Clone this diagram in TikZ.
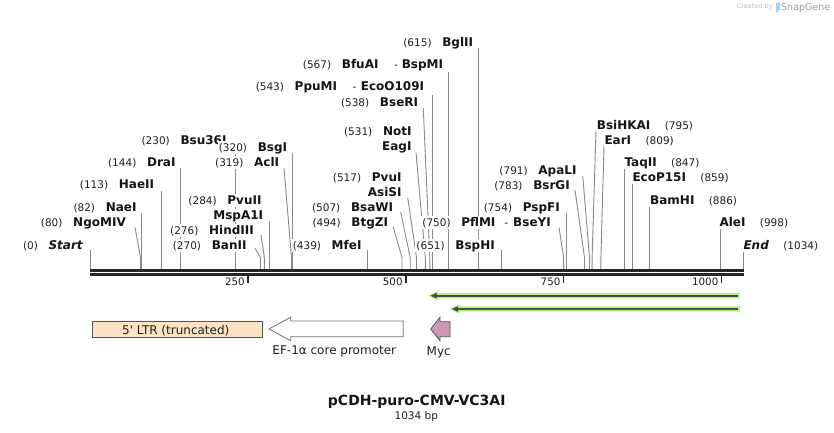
\documentclass[tikz,border=0pt]{standalone}
\usepackage{fontspec}
\setmainfont{DejaVu Sans}
\definecolor{sitegray}{HTML}{8A8A8A}
\definecolor{bbone}{HTML}{262626}
\definecolor{ltrfill}{HTML}{FDE3C3}
\definecolor{mycfill}{HTML}{CC99B5}
\definecolor{glowgreen}{RGB}{180,240,130}
\definecolor{darkarr}{RGB}{70,78,70}
\definecolor{fstroke}{HTML}{555555}
\definecolor{logoblue}{HTML}{9FD3F0}
\tikzset{
  nm/.style={font=\fontsize{12}{14}\selectfont\bfseries, text=black!92, fill=white,
    inner xsep=1pt, inner ysep=1.5pt, text height=9pt, text depth=1pt},
  nu/.style={font=\fontsize{10.5}{12}\selectfont, text=black!88, fill=white,
    inner xsep=1pt, inner ysep=1.5pt, text height=9pt, text depth=1pt},
  ticklab/.style={font=\fontsize{10.3}{12}\selectfont, text=black!88, inner sep=0pt},
  siteline/.style={draw=sitegray, line width=0.9pt},
  tickmark/.style={draw=bbone, line width=1.6pt},
  ftext/.style={font=\fontsize{12}{14}\selectfont, text=black!88, inner sep=0pt},
}
\newcommand\SiteV[3]{\coordinate (t#1) at (#2,#3); \coordinate (b#1) at (#2,269.2);
  \draw[siteline] (t#1) -- (b#1);}
\newcommand\SiteS[4]{\coordinate (t#1) at (#2,#3); \coordinate (k#1) at (#4,257.5);
  \coordinate (b#1) at (#4,269.2); \draw[siteline] (t#1) -- (k#1) -- (b#1);}
\newcommand\LabL[5]{\node[nm, anchor=base east, xshift=1pt] (n#1) at (#2,#3) {#5};
  \node[nu, anchor=base east, xshift=-8.3pt] (m#1) at (n#1.base west) {#4};}
\newcommand\LabLo[4]{\node[nm, anchor=base east, xshift=1pt] (n#1) at (#2,#3) {#4};}
\newcommand\LabR[5]{\node[nm, anchor=base west, xshift=-1pt] (n#1) at (#2,#3) {#5};
  \node[nu, anchor=base west, xshift=12pt] (m#1) at (n#1.base east) {#4};}
\newcommand\HySep[2]{\hspace{#1}{\mdseries\fontsize{10.5}{12}\selectfont -}\hspace{#2}}
\newcommand\GArrow[4]{%
  \coordinate (ga#1) at (#3,#2); \coordinate (gb#1) at (#4,#2);
  \fill[glowgreen] ({#3-1.2},#2) -- ({#3+8.5},{#2-4.6}) -- ({#3+8.5},{#2-2.7}) -- ({#4},{#2-2.7})
     -- ({#4},{#2+2.7}) -- ({#3+8.5},{#2+2.7}) -- ({#3+8.5},{#2+4.6}) -- cycle;
  \draw[darkarr, line width=2.3pt] ({#3+5},#2) -- ({#4-1.7},#2);
  \fill[darkarr] ({#3+1.2},#2) -- ({#3+7.2},{#2-2.8}) -- ({#3+7.2},{#2+2.8}) -- cycle;}
\begin{document}
\begin{tikzpicture}[x=1pt,y=-1pt]
\useasboundingbox (0,0) rectangle (834,432);
\fill[white] (0,0) rectangle (834,432);

% ---- site lines ----
\SiteV{0}{90}{250}
\SiteS{80}{135}{227.3}{140.5}
\SiteV{82}{141.8}{213}
\SiteV{113}{161.4}{191}
\SiteV{144}{180.9}{168.3}
\SiteV{230}{235.3}{146}
\SiteV{320}{292.1}{152.7}
\SiteS{319}{284}{168.3}{291.5}
\SiteV{284}{269.4}{221}
\SiteS{276}{261}{235}{264.3}
\SiteS{270}{255}{248.3}{260.5}
\SiteV{439}{367.2}{250}
\SiteS{494}{393.3}{227.3}{402}
\SiteS{507}{400.7}{212.3}{410.2}
\SiteS{517}{407.7}{197.7}{416.5}
\SiteS{531}{416}{152.7}{425.3}
\SiteS{538}{423.3}{108.3}{429.8}
\SiteV{543}{432.9}{95}
\SiteV{567}{448.1}{71.7}
\SiteV{615}{478.4}{48.3}
\SiteV{651}{501.1}{250}
\SiteS{750}{559}{227.3}{563.6}
\SiteV{754}{566.2}{213.3}
\SiteS{783}{575}{190}{584.5}
\SiteS{791}{582.7}{175.7}{589.5}
\SiteS{795}{596}{130}{592.1}
\SiteS{809}{604}{146}{600.9}
\SiteV{847}{624.9}{167.3}
\SiteV{859}{632.5}{182.7}
\SiteV{886}{649.5}{205.7}
\SiteV{998}{720.3}{227.3}
\SiteV{1034}{743}{250}

% ---- labels ----
\LabL{0}{83.3}{249.3}{(0)}{\textit{Start}}
\LabL{80}{126}{226}{(80)}{NgoMIV}
\LabL{82}{136.7}{211}{(82)}{NaeI}
\LabL{113}{154.3}{188.3}{(113)}{HaeII}
\LabL{144}{175.7}{166}{(144)}{DraI}
\LabL{230}{226.7}{144}{(230)}{Bsu36I}
\LabL{320}{287.3}{151}{(320)}{BsgI}
\LabL{319}{279.3}{166.7}{(319)}{AclI}
\LabL{284}{261.7}{204}{(284)}{PvuII}
\LabLo{284b}{263.3}{219.3}{MspA1I}
\LabL{276}{254}{234.3}{(276)}{HindIII}
\LabL{270}{246.7}{249.3}{(270)}{BanII}
\LabL{439}{361.7}{249}{(439)}{MfeI}
\LabL{494}{388.3}{226}{(494)}{BtgZI}
\LabL{507}{393.3}{211}{(507)}{BsaWI}
\LabL{517}{401.7}{181}{(517)}{PvuI}
\LabLo{517b}{401.7}{196}{AsiSI}
\LabL{531}{411.7}{135}{(531)}{NotI}
\LabLo{531b}{411.7}{150}{EagI}
\LabL{538}{418.3}{106.7}{(538)}{BseRI}
\LabL{543}{424.3}{90.7}{(543)}{PpuMI\HySep{15.5pt}{4.5pt}EcoO109I}
\LabL{567}{443.3}{68.3}{(567)}{BfuAI\HySep{15.5pt}{4pt}BspMI}
\LabL{615}{473.3}{46.3}{(615)}{BglII}
\LabL{651}{495}{249}{(651)}{BspHI}
\LabL{750}{551}{226}{(750)}{PflMI\HySep{9pt}{5pt}BseYI}
\LabL{754}{560}{211.7}{(754)}{PspFI}
\LabL{783}{570}{189.3}{(783)}{BsrGI}
\LabL{791}{576.7}{174.3}{(791)}{ApaLI}
\LabR{795}{596.7}{129.3}{(795)}{BsiHKAI}
\LabR{809}{604.3}{144.3}{(809)}{EarI}
\LabR{847}{624.3}{166.7}{(847)}{TaqII}
\LabR{859}{632.3}{181}{(859)}{EcoP15I}
\LabR{886}{650}{204.3}{(886)}{BamHI}
\LabR{998}{719.3}{226.7}{(998)}{AleI}
\LabR{1034}{743.3}{249.3}{(1034)}{\textit{End}}

% ---- backbone ----
\coordinate (bbL1) at (90,270.3); \coordinate (bbR1) at (743.5,270.3);
\coordinate (bbL2) at (90,274.5); \coordinate (bbR2) at (743.5,274.5);
\draw[bbone, line width=2.6pt] (bbL1) -- (bbR1);
\draw[bbone, line width=2.4pt] (bbL2) -- (bbR2);

% ---- ruler ticks ----
\foreach \v/\xx in {250/247.9, 500/405.8, 750/563.6, 1000/721.5}{
  \draw[tickmark] (\xx,275.6) -- (\xx,282.6);
  \node[ticklab, anchor=base east] (tk\v) at ({\xx-3},285) {\v};
}

% ---- primer-like green arrows ----
\GArrow{1}{295.7}{429.3}{739.5}
\GArrow{2}{309}{450.7}{740}

% ---- features ----
\draw[draw=fstroke, fill=ltrfill, line width=0.8pt] (92.3,321) rectangle (262.7,337.7);
\node[ftext, anchor=base] (ltrlab) at (175.8,334) {5\textquotesingle{} LTR (truncated)};

\draw[draw=black!55, fill=white, line width=0.8pt]
  (269,329) -- (290.7,317.3) -- (290.7,321) -- (403.3,321) -- (403.3,336.7)
  -- (290.7,336.7) -- (290.7,340.7) -- cycle;
\node[ftext, anchor=base] (eflab) at (334.3,354.3) {EF-1α core promoter};

\draw[draw=fstroke, fill=mycfill, line width=0.8pt]
  (430.7,329) -- (440,317.3) -- (440,321.7) -- (450,321.7) -- (450,336.7)
  -- (440,336.7) -- (440,340.7) -- cycle;
\node[ftext, anchor=base] (myclab) at (438.7,355) {Myc};

% ---- title ----
\node[font=\fontsize{14}{16}\selectfont\bfseries, text=black!92, anchor=base, inner sep=0pt]
  (title) at (416.7,405) {pCDH-puro-CMV-VC3AI};
\node[font=\fontsize{10.5}{12}\selectfont, text=black!88, anchor=base, inner sep=0pt]
  (bplab) at (416.3,419.3) {1034 bp};

% ---- watermark ----
\node[font=\fontsize{6.5}{8}\selectfont, text=black!25, anchor=base west, inner sep=0pt]
  (created) at (736.7,8.6) {Created by};
\fill[logoblue] (776,2.5) -- (780,2.5) -- (780,9) -- (777.3,12) -- (776,12) -- cycle;
\node[font=\fontsize{9.5}{11}\selectfont, text=black!38, anchor=base west, inner sep=0pt]
  (snapgene) at (781,10.2) {SnapGene};
\end{tikzpicture}
\end{document}
